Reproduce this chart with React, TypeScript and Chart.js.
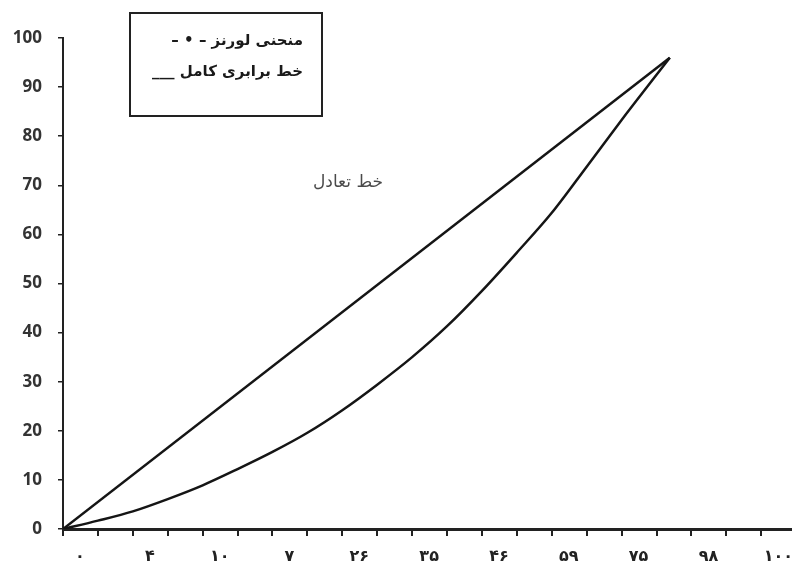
import React, { useEffect, useRef } from "react";
import { Chart, registerables } from "chart.js";

Chart.register(...registerables);

// ---- data ----
const xTickValues = [0, 1, 2, 3, 4, 5, 6, 7, 8, 9, 10, 11, 12, 13, 14, 15, 16, 17, 18, 19, 20];
const xCategoryLabels = ["۰", "۴", "۱۰", "۷", "۲۶", "۳۵", "۴۶", "۵۹", "۷۵", "۹۸", "۱۰۰"];
const yTickValues = [0, 10, 20, 30, 40, 50, 60, 70, 80, 90, 100];

const lorenzX = [0, 1, 2, 3, 4, 5, 6, 7, 8, 9, 10, 11, 12, 13, 14, 15, 16, 17, 17.38];
const lorenzY = [0, 1.7, 3.6, 6.1, 8.9, 12.2, 15.7, 19.6, 24.2, 29.4, 35, 41.3, 48.5, 56.3, 64.4, 73.8, 83.3, 92.5, 96];

const equalityX = [0, 17.38];
const equalityY = [0, 96];

const legendLines = ["منحنی لورنز – • –", "خط برابری کامل ___"];
const annotationText = "خط تعادل";

const overlayPlugin = {
  id: "overlay",
  afterDraw(chart: any) {
    const ctx = chart.ctx as CanvasRenderingContext2D;
    ctx.save();
    // legend box
    ctx.strokeStyle = "#222";
    ctx.lineWidth = 2;
    ctx.strokeRect(130, 13, 192, 103);
    ctx.fillStyle = "#1a1a1a";
    ctx.font = "bold 15px 'DejaVu Sans'";
    (ctx as any).direction = "rtl";
    ctx.textAlign = "right";
    ctx.textBaseline = "middle";
    ctx.fillText(legendLines[0], 303, 41);
    ctx.fillText(legendLines[1], 303, 72);
    // annotation
    ctx.fillStyle = "#4a4a4a";
    ctx.font = "17px 'DejaVu Serif', 'DejaVu Sans'";
    ctx.textAlign = "center";
    ctx.fillText(annotationText, 348, 183);
    ctx.restore();
  },
};

export default function App() {
  const ref = useRef<HTMLCanvasElement | null>(null);

  useEffect(() => {
    if (!ref.current) return;
    const chart = new Chart(ref.current, {
      type: "line",
      data: {
        datasets: [
          {
            label: "equality",
            data: equalityX.map((x, i) => ({ x, y: equalityY[i] })),
            borderColor: "#151515",
            borderWidth: 2.5,
            pointRadius: 0,
            tension: 0,
          },
          {
            label: "lorenz",
            data: lorenzX.map((x, i) => ({ x, y: lorenzY[i] })),
            borderColor: "#151515",
            borderWidth: 2.5,
            pointRadius: 0,
            cubicInterpolationMode: "monotone",
          },
        ],
      },
      options: {
        responsive: false,
        animation: false,
        layout: { padding: { top: 38, left: 0, right: 0, bottom: 0 } },
        plugins: { legend: { display: false }, tooltip: { enabled: false } },
        scales: {
          x: {
            type: "linear",
            min: 0,
            max: 20.88,
            afterBuildTicks: (scale: any) => {
              scale.ticks = xTickValues.map((v) => ({ value: v }));
            },
            afterFit: (scale: any) => {
              scale.height = 46;
            },
            grid: {
              display: true,
              drawOnChartArea: false,
              drawTicks: true,
              tickLength: 7,
              color: "#222",
              lineWidth: 2,
            },
            border: { display: true, color: "#222", width: 3 },
            ticks: {
              autoSkip: false,
              maxRotation: 0,
              minRotation: 0,
              padding: 12,
              labelOffset: 17,
              color: "#222",
              font: { family: "'DejaVu Sans'", size: 16, weight: "bold", lineHeight: 1.1 },
              callback: (value: any) => {
                const v = Number(value);
                return Number.isInteger(v) && v % 2 === 0 ? xCategoryLabels[v / 2] : "";
              },
            },
          },
          y: {
            type: "linear",
            min: 0,
            max: 100,
            afterBuildTicks: (scale: any) => {
              scale.ticks = yTickValues.map((v) => ({ value: v }));
            },
            afterFit: (scale: any) => {
              scale.width = 63;
            },
            grid: {
              display: true,
              drawOnChartArea: false,
              drawTicks: true,
              tickLength: 5,
              color: "#222",
              lineWidth: 1.5,
            },
            border: { display: true, color: "#222", width: 2 },
            ticks: {
              autoSkip: false,
              padding: 16,
              color: "#333",
              font: { family: "'Open Sans'", size: 17, weight: "bold" },
            },
          },
        },
      },
      plugins: [overlayPlugin],
    } as any);
    return () => chart.destroy();
  }, []);

  return (
    <div style={{ position: "absolute", left: 0, top: 0, width: 792, height: 575, background: "#fff" }}>
      <canvas ref={ref} width={792} height={575} style={{ width: 792, height: 575, display: "block" }} />
    </div>
  );
}
